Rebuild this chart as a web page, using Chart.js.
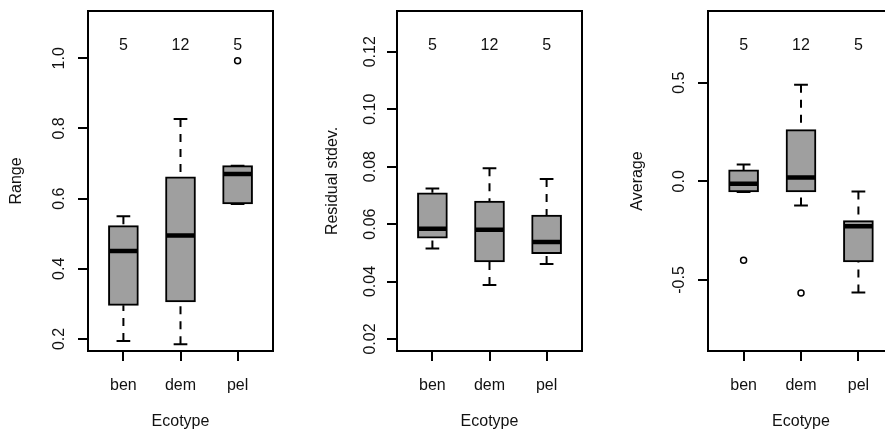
<!DOCTYPE html>
<html>
<head>
<meta charset="utf-8">
<script src="https://cdn.jsdelivr.net/npm/chart.js@4/dist/chart.umd.min.js"></script>
<style>
html, body { margin: 0; padding: 0; overflow: hidden; background: #fff; width: 885px; height: 435px; }
#wrap { position: relative; width: 885px; height: 435px; overflow: hidden; }
canvas { position: absolute; top: 0; }
</style>
</head>
<body>
<div id="wrap">
<canvas id="c1" width="295" height="435" style="left:0px"></canvas>
<canvas id="c2" width="295" height="435" style="left:295px"></canvas>
<canvas id="c3" width="310" height="435" style="left:590px"></canvas>
</div>
<script>
// ---------- data ----------
const categories = ['ben', 'dem', 'pel'];
const counts = [5, 12, 5];
const xTitle = 'Ecotype';

// Panel 1: Range
const rangeMin = [0.194, 0.185, 0.585];
const rangeQ1  = [0.296, 0.306, 0.585];
const rangeMed = [0.451, 0.495, 0.670];
const rangeQ3  = [0.523, 0.662, 0.694];
const rangeMax = [0.550, 0.827, 0.694];
const rangeOut = [[], [], [0.993]];
const rangeTickLabels = ['0.2', '0.4', '0.6', '0.8', '1.0'];

// Panel 2: Residual stdev.
const sdMin = [0.0515, 0.0388, 0.0461];
const sdQ1  = [0.0551, 0.0468, 0.0497];
const sdMed = [0.0584, 0.0580, 0.0538];
const sdQ3  = [0.0709, 0.0680, 0.0631];
const sdMax = [0.0724, 0.0794, 0.0757];
const sdOut = [[], [], []];
const sdTickLabels = ['0.02', '0.04', '0.06', '0.08', '0.10', '0.12'];

// Panel 3: Average
const avgMin = [-0.054, -0.122, -0.564];
const avgQ1  = [-0.054, -0.054, -0.409];
const avgMed = [-0.012, 0.019, -0.228];
const avgQ3  = [0.058, 0.262, -0.199];
const avgMax = [0.086, 0.489, -0.052];
const avgOut = [[-0.400], [-0.566], []];
const avgTickLabels = ['-0.5', '0.0', '0.5'];

// ---------- drawing ----------
const FONT = '16px "Liberation Sans", Arial, sans-serif';
const BOX_HALF = 0.245;
const CAP_HALF = 0.12;
const TEXT_COLOR = '#111';

function textPlugin(title, tickLabels, tickOffset, titleOffset) {
  return {
    id: 'rtext',
    afterDraw(chart) {
      const ctx = chart.ctx;
      const {left, right, top, bottom} = chart.chartArea;
      const xs = chart.scales.x, ys = chart.scales.y;
      ctx.save();
      ctx.lineWidth = 2;
      ctx.strokeStyle = '#000';
      ctx.strokeRect(left, top, right - left, bottom - top);
      ctx.fillStyle = TEXT_COLOR;
      ctx.font = FONT;
      ctx.textAlign = 'center';
      ctx.textBaseline = 'alphabetic';
      categories.forEach((c, i) => {
        const px = xs.getPixelForValue(i + 1);
        ctx.fillText(c, px, 390);
        ctx.fillText(String(counts[i]), px, top + 38.5);
      });
      ctx.fillText(xTitle, (left + right) / 2, 425.5);
      tickLabels.forEach(t => {
        const py = ys.getPixelForValue(parseFloat(t));
        ctx.save();
        ctx.translate(left - tickOffset, py);
        ctx.rotate(-Math.PI / 2);
        ctx.fillText(t, 0, 0);
        ctx.restore();
      });
      ctx.save();
      ctx.translate(left - titleOffset, (top + bottom) / 2);
      ctx.rotate(-Math.PI / 2);
      ctx.fillText(title, 0, 0);
      ctx.restore();
      ctx.restore();
    }
  };
}

function makeBoxplot(canvasId, opt) {
  const {mins, q1, med, q3, maxs, outs, yMin, yMax, tickLabels, title, yAxisWidth, padRight, tickOffset, titleOffset} = opt;
  const boxes = categories.map((c, i) => ({x: i + 1, y: [q1[i], q3[i]]}));
  const whiskers = [];
  const caps = [];
  const medians = [];
  const outliers = [];
  categories.forEach((c, i) => {
    const cx = i + 1;
    whiskers.push({x: cx, y: maxs[i]}, {x: cx, y: q3[i]}, {x: cx, y: null});
    whiskers.push({x: cx, y: mins[i]}, {x: cx, y: q1[i]}, {x: cx, y: null});
    caps.push({x: cx - CAP_HALF, y: maxs[i]}, {x: cx + CAP_HALF, y: maxs[i]}, {x: cx, y: null});
    caps.push({x: cx - CAP_HALF, y: mins[i]}, {x: cx + CAP_HALF, y: mins[i]}, {x: cx, y: null});
    medians.push({x: cx - BOX_HALF, y: med[i]}, {x: cx + BOX_HALF, y: med[i]}, {x: cx, y: null});
    outs[i].forEach(v => outliers.push({x: cx, y: v}));
  });
  const gridOpts = {drawOnChartArea: false, drawTicks: true, tickLength: 10, lineWidth: 2, color: '#000', offset: false};
  return new Chart(document.getElementById(canvasId), {
    type: 'bar',
    data: {
      datasets: [
        {type: 'bar', data: boxes, backgroundColor: '#9f9f9f', borderColor: '#000', borderWidth: 2,
         borderSkipped: false, barThickness: 30, order: 10},
        {type: 'line', data: whiskers, borderColor: '#000', borderWidth: 2, borderDash: [8, 7],
         pointRadius: 0, spanGaps: false, fill: false, tension: 0, order: 5},
        {type: 'line', data: caps, borderColor: '#000', borderWidth: 2,
         pointRadius: 0, spanGaps: false, fill: false, tension: 0, order: 4},
        {type: 'line', data: medians, borderColor: '#000', borderWidth: 4.5,
         pointRadius: 0, spanGaps: false, fill: false, tension: 0, order: 3},
        {type: 'line', data: outliers, showLine: false, pointRadius: 3, pointBorderWidth: 1.5,
         pointBackgroundColor: 'rgba(0,0,0,0)', pointBorderColor: '#000', order: 2}
      ]
    },
    options: {
      responsive: false,
      animation: false,
      events: [],
      layout: {padding: {top: 11, right: padRight, left: 0, bottom: 0}},
      plugins: {legend: {display: false}, tooltip: {enabled: false}},
      scales: {
        x: {
          type: 'linear', min: 0.38, max: 3.62, offset: false,
          afterBuildTicks: s => { s.ticks = categories.map((c, i) => ({value: i + 1})); },
          afterFit: s => { s.height = 84; },
          grid: gridOpts,
          border: {display: false},
          ticks: {display: false}
        },
        y: {
          type: 'linear', min: yMin, max: yMax,
          afterBuildTicks: s => { s.ticks = tickLabels.map(t => ({value: parseFloat(t)})); },
          afterFit: s => { s.width = yAxisWidth; },
          grid: gridOpts,
          border: {display: false},
          ticks: {display: false}
        }
      }
    },
    plugins: [textPlugin(title, tickLabels, tickOffset, titleOffset)]
  });
}

makeBoxplot('c1', {mins: rangeMin, q1: rangeQ1, med: rangeMed, q3: rangeQ3, maxs: rangeMax, outs: rangeOut,
  yMin: 0.1658, yMax: 1.1348, tickLabels: rangeTickLabels, title: 'Range', yAxisWidth: 88, padRight: 22,
  tickOffset: 24, titleOffset: 67});
makeBoxplot('c2', {mins: sdMin, q1: sdQ1, med: sdMed, q3: sdQ3, maxs: sdMax, outs: sdOut,
  yMin: 0.01582, yMax: 0.13417, tickLabels: sdTickLabels, title: 'Residual stdev.', yAxisWidth: 102, padRight: 8,
  tickOffset: 22, titleOffset: 60});
makeBoxplot('c3', {mins: avgMin, q1: avgQ1, med: avgMed, q3: avgQ3, maxs: avgMax, outs: avgOut,
  yMin: -0.8599, yMax: 0.8634, tickLabels: avgTickLabels, title: 'Average', yAxisWidth: 118, padRight: 6,
  tickOffset: 24, titleOffset: 66});
</script>
</body>
</html>
